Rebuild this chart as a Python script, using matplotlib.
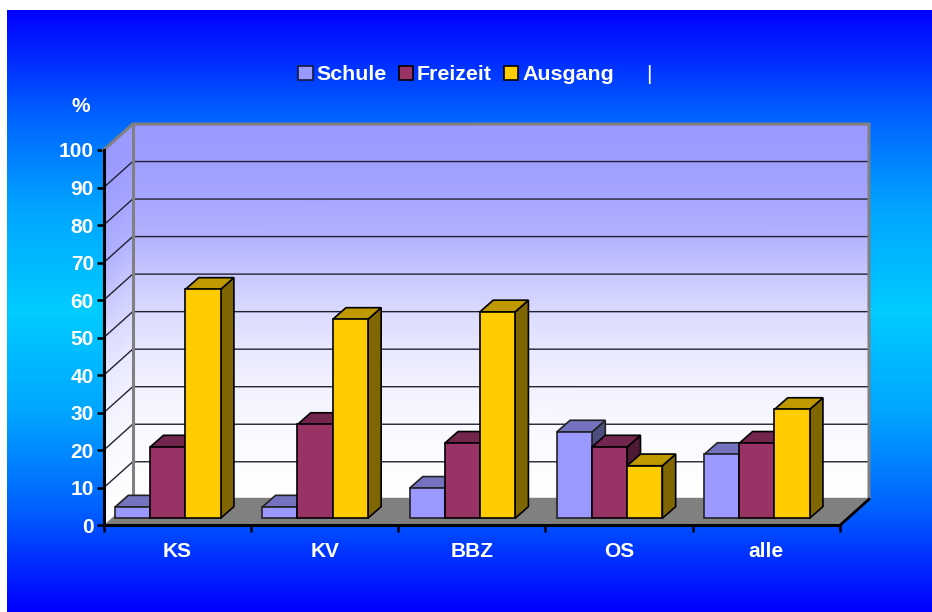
import numpy as np
import matplotlib
matplotlib.use('Agg')
from matplotlib import pyplot as plt
from matplotlib.colors import LinearSegmentedColormap
from matplotlib.patches import Patch, Polygon

plt.rcParams['font.family'] = ['Liberation Sans', 'DejaVu Sans']

# data
categories = ['KS', 'KV', 'BBZ', 'OS', 'alle']
series = ['Schule', 'Freizeit', 'Ausgang']
schule = [3, 3, 8, 23, 17]
freizeit = [19, 25, 20, 19, 20]
ausgang = [61, 53, 55, 14, 29]
y_ticks = list(range(0, 101, 10))

# face, top, side
front_cols = ['#9999FF', '#993366', '#FFCC00']
top_cols = ['#7373BF', '#73264D', '#BF9900']
side_cols = ['#4D4D80', '#4D1A33', '#806600']
edge_cols = ['#222222', '#000000', '#000000']

W, H = 932, 612
fig = plt.figure(figsize=(W / 100, H / 100), dpi=100, facecolor='white')

# background gradient
bg = fig.add_axes([7 / W, 0, 925 / W, 602 / H], zorder=0)
bg_cmap = LinearSegmentedColormap.from_list('bg', [
    (0.0, '#0000FF'), (0.1, '#0037FF'), (0.166, '#005FFF'), (0.33, '#00A5FF'),
    (0.5, '#00CCFF'), (0.67, '#00A5FF'), (0.834, '#005FFF'), (0.9, '#0037FF'), (1.0, '#0000FF')])
bg.imshow(np.linspace(0, 1, 602).reshape(-1, 1), cmap=bg_cmap, aspect='auto')
bg.axis('off')

# chart axes: x 0..5 categories, y 0..100 percent on the front plane
ax = fig.add_axes([103.7 / W, (H - 525.3) / H, 736.3 / W, 375.3 / H], zorder=1)
ax.patch.set_visible(False)
ax.set_xlim(0, 5)
ax.set_ylim(0, 100)

px = 5 / 736.3    # data units per pixel, x
py = 100 / 375.3  # data units per pixel, y
wall_dx, wall_dy = 29 * px, 26 * py
bar_dx, bar_dy = 13.3 * px, 11.7 * py
bar_w = 35.2 * px
bar_x0 = 11.3 * px
bar_base = 7 * py

# lighter towards the floor, stays blue in the upper part
wall_cmap = LinearSegmentedColormap.from_list('wall', [
    (0.0, '#FFFFFF'), (0.16, '#FAFAFF'), (0.30, '#F2F2FF'), (0.40, '#E8E8FF'),
    (0.50, '#DADAFF'), (0.61, '#C6C6FF'), (0.70, '#B2B2FF'), (0.80, '#A6A6FF'),
    (0.90, '#9E9EFF'), (1.0, '#9999FF')])
grid_y = np.linspace(0, 100, 41)
grid_c = np.column_stack([grid_y / 100, grid_y / 100])

# side wall and back wall
ax.pcolormesh(np.column_stack([np.zeros(41), np.full(41, wall_dx)]),
              np.column_stack([grid_y, grid_y + wall_dy]),
              grid_c, cmap=wall_cmap, vmin=0, vmax=1, shading='gouraud', clip_on=False, zorder=1)
ax.pcolormesh(np.column_stack([np.full(41, wall_dx), np.full(41, 5 + wall_dx)]),
              np.column_stack([grid_y + wall_dy, grid_y + wall_dy]),
              grid_c, cmap=wall_cmap, vmin=0, vmax=1, shading='gouraud', clip_on=False, zorder=1)

# gridlines
for v in y_ticks[1:-1]:
    ax.plot([0, wall_dx, 5 + wall_dx], [v, v + wall_dy, v + wall_dy],
            color='#222233', lw=1.0, clip_on=False, zorder=2)

# floor
ax.add_patch(Polygon([[0, 0], [5, 0], [5 + wall_dx, wall_dy], [wall_dx, wall_dy]],
                     facecolor='#808080', edgecolor='none', clip_on=False, zorder=3))

# wall frame
ax.plot([0, wall_dx, 5 + wall_dx, 5 + wall_dx, wall_dx],
        [100, 100 + wall_dy, 100 + wall_dy, wall_dy, wall_dy],
        color='#808080', lw=2.2, clip_on=False, zorder=3)
ax.plot([wall_dx, wall_dx], [wall_dy, 100 + wall_dy], color='#808080', lw=2.2,
        clip_on=False, zorder=3)
ax.plot([5, 5 + wall_dx], [0, wall_dy], color='black', lw=2, clip_on=False, zorder=4)

# bars, left to right so that each one covers the side of the one before
z = 5
for i in range(len(categories)):
    for j, values in enumerate([schule, freizeit, ausgang]):
        x0 = i + bar_x0 + j * bar_w
        x1 = x0 + bar_w
        top = bar_base + values[i]
        ec = edge_cols[j]
        ax.add_patch(Polygon([[x1, bar_base], [x1 + bar_dx, bar_base + bar_dy],
                              [x1 + bar_dx, top + bar_dy], [x1, top]],
                             facecolor=side_cols[j], edgecolor=ec, lw=1.2, clip_on=False, zorder=z))
        ax.add_patch(Polygon([[x0, top], [x1, top], [x1 + bar_dx, top + bar_dy],
                              [x0 + bar_dx, top + bar_dy]],
                             facecolor=top_cols[j], edgecolor=ec, lw=1.2, clip_on=False, zorder=z))
        ax.bar(x0, values[i], width=bar_w, bottom=bar_base, align='edge',
               color=front_cols[j], edgecolor=ec, lw=1.2, clip_on=False, zorder=z)
        z += 1

# axes, ticks, labels
for s in ['top', 'right']:
    ax.spines[s].set_visible(False)
for s in ['left', 'bottom']:
    ax.spines[s].set_linewidth(2.2)
    ax.spines[s].set_zorder(60)
ax.set_yticks(y_ticks)
ax.set_xticks(range(6))
ax.set_xticklabels([])
ax.set_xticks(np.arange(len(categories)) + 0.5, categories, minor=True)
ax.tick_params(axis='y', length=5, width=1.8, labelsize=15, labelcolor='white', pad=2, zorder=60)
ax.tick_params(axis='x', which='major', length=5, width=1.8)
ax.tick_params(axis='x', which='minor', length=0, labelsize=15, labelcolor='white', pad=12)
for t in ax.get_yticklabels() + ax.get_xticklabels(minor=True):
    t.set_fontweight('bold')

fig.text(81 / W, 1 - 106 / H, '%', color='white', fontsize=15, fontweight='bold',
         ha='center', va='center', zorder=5)

# legend
handles = [Patch(facecolor=front_cols[k], edgecolor='#1a1a40' if k == 0 else 'black', lw=1.2)
           for k in range(3)]
leg = fig.legend(handles, series, loc='center left', bbox_to_anchor=(279 / W, 1 - 75 / H),
                 ncol=3, frameon=False, handlelength=0.68, handleheight=0.68,
                 handletextpad=0.18, columnspacing=0.55,
                 prop={'weight': 'bold', 'size': 15.4}, labelcolor='white')
leg.set_zorder(5)
fig.text(649 / W, 1 - 74 / H, '|', color='white', fontsize=15, ha='center', va='center', zorder=5)

fig.savefig('out.png', dpi=100)
